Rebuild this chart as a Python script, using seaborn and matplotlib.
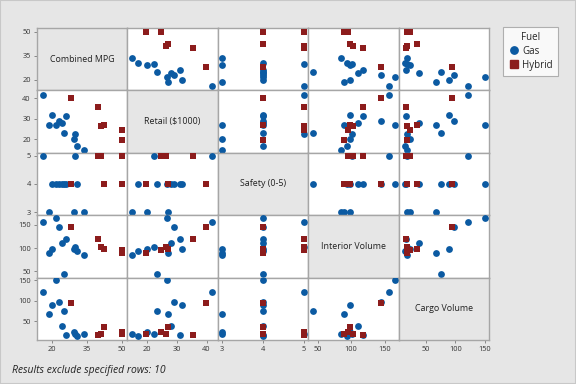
import matplotlib
matplotlib.use("Agg")
import matplotlib.pyplot as plt
import seaborn as sns
import pandas as pd
from matplotlib.lines import Line2D
from matplotlib.patches import Rectangle

sns.set_theme(style="white")
plt.rcParams['font.family'] = ['Open Sans', 'DejaVu Sans']

# ---- data ----
fuel     = ["Gas"] * 12 + ["Hybrid"] * 6
mpg      = [16, 18.6, 19.8, 21.6, 23, 24.1, 25, 26, 29.3, 29.7, 30.6, 33.6,
            28.3, 40, 41.3, 42.6, 50, 50]
retail   = [41.8, 27.1, 31.6, 26.8, 29.1, 28.1, 23.2, 31.1, 20, 22.4, 16.9, 15,
            39.9, 35.6, 26.4, 27.1, 24.6, 19.5]
safety   = [5, 3, 4, 4, 4, 4, 4, 4, 3, 5, 4, 3,
            4, 5, 5, 4, 5, 4]
interior = [156, 89.6, 98.5, 165, 145, 110, 43, 118.5, 98, 102, 94, 85,
            145, 118.5, 103, 98.5, 95, 89.6]
cargo    = [121, 67, 89, 151, 97, 38, 75, 16, 23, 18, 15, 18,
            94, 16, 18, 35, 23, 18]

var_names = ["Combined MPG", "Retail ($1000)", "Safety (0-5)", "Interior Volume", "Cargo Volume"]
var_ticks = [[20, 35, 50], [20, 30, 40], [3, 4, 5], [50, 100, 150], [50, 100, 150]]
footnote = "Results exclude specified rows: 10"

df = pd.DataFrame({"Fuel": fuel, "Combined MPG": mpg, "Retail ($1000)": retail,
                   "Safety (0-5)": safety, "Interior Volume": interior,
                   "Cargo Volume": cargo})

limits = {"Combined MPG": (13.5, 52.5), "Retail ($1000)": (13.4, 43.8),
          "Safety (0-5)": (2.9, 5.1), "Interior Volume": (36, 171),
          "Cargo Volume": (4, 157)}

BG = "#e6e6e6"
palette = {"Gas": "#0b5aa2", "Hybrid": "#8c1c1c"}
markers = {"Gas": "o", "Hybrid": "s"}
SPINE = "#a6a6a6"

fig = plt.figure(figsize=(5.76, 3.84), dpi=100, facecolor=BG)
n = len(var_names)
gs = fig.add_gridspec(n, n, left=37/576, right=489/576, top=1-28/384,
                      bottom=1-340/384, wspace=0, hspace=0)

for i, yv in enumerate(var_names):
    for j, xv in enumerate(var_names):
        ax = fig.add_subplot(gs[i, j])
        ax.set_xlim(limits[xv])
        ax.set_ylim(limits[yv])
        if i == j:
            ax.set_facecolor(BG)
            ax.text(0.5, 0.5, xv, transform=ax.transAxes, ha="center",
                    va="center", fontsize=6.4, color="#222222")
        else:
            ax.set_facecolor("white")
            for f in ["Gas", "Hybrid"]:
                sub = df[df["Fuel"] == f]
                sns.scatterplot(data=sub, x=xv, y=yv, ax=ax, color=palette[f],
                                marker=markers[f], s=24, linewidth=0,
                                legend=False, zorder=3)
        ax.set_xlabel("")
        ax.set_ylabel("")
        for sp in ax.spines.values():
            sp.set_color(SPINE)
            sp.set_linewidth(1.0)
        if j == 0:
            ax.set_yticks(var_ticks[i])
            ax.set_yticklabels([str(t) for t in var_ticks[i]], fontsize=5.3,
                               color="#333333")
            ax.tick_params(axis="y", length=2.5, width=0.6, color="#777777", pad=2, left=True)
        else:
            ax.set_yticks([])
        if i == n - 1:
            ax.set_xticks(var_ticks[j])
            ax.set_xticklabels([str(t) for t in var_ticks[j]], fontsize=5.3,
                               color="#333333")
            ax.tick_params(axis="x", length=2.5, width=0.6, color="#777777", pad=2, bottom=True)
        else:
            ax.set_xticks([])

handles = [Line2D([], [], linestyle="", marker="o", color=palette["Gas"],
                  markersize=5.3, label="Gas"),
           Line2D([], [], linestyle="", marker="s", color=palette["Hybrid"],
                  markersize=5.3, label="Hybrid")]
leg = fig.legend(handles=handles, title="Fuel", loc="upper left",
                 bbox_to_anchor=(503/576, 1-27/384), fontsize=7,
                 title_fontsize=7, frameon=True, fancybox=False,
                 handletextpad=0.3, borderpad=0.5, labelspacing=0.3,
                 handlelength=1.2, borderaxespad=0)
leg.get_frame().set_edgecolor("#a0a0a0")
leg.get_frame().set_facecolor("white")
leg.get_frame().set_linewidth(0.8)

fig.text(12/576, 1-370/384, footnote, fontsize=7.5, style="italic",
         color="#222222", va="center", ha="left")

fig.patches.append(Rectangle((0, 0), 1, 1, transform=fig.transFigure,
                             fill=False, edgecolor="#c8c8c8", linewidth=1.5))

fig.savefig("out.png", dpi=100, facecolor=BG)
